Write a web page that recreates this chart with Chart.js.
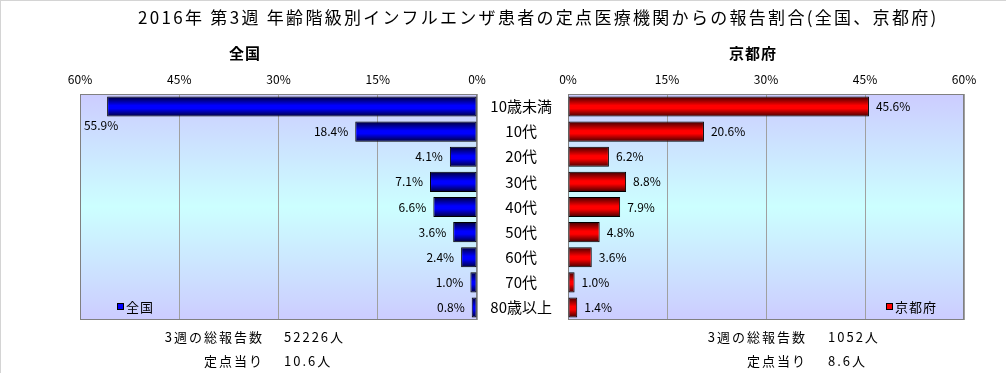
<!DOCTYPE html>
<html lang="ja">
<head>
  <meta charset="UTF-8">
  <title>年齢階級別インフルエンザ患者の報告割合</title>
  <script src="https://cdn.jsdelivr.net/npm/chart.js"></script>
  <style>
    body {
      margin: 0;
      background: #fff;
      font-family: 'Noto Sans CJK JP', sans-serif;
      color: #000;
    }

    #page {
      position: relative;
      width: 1006px;
      height: 373px;
      overflow: hidden;
      box-sizing: border-box;
      border-top: 1px solid #d4d4d4;
      border-left: 1px solid #d4d4d4;
    }

    canvas {
      position: absolute;
      left: 0;
      top: 0;
    }

    .txt {
      position: absolute;
      white-space: nowrap;
      line-height: 18px;
    }

    #title {
      left: 137px;
      top: 7px;
      font-size: 17px;
      letter-spacing: 2.3px;
    }

    .sub {
      font-size: 15px;
      font-weight: bold;
      letter-spacing: 1px;
      top: 43px;
      width: 120px;
      text-align: center;
    }

    .note {
      font-size: 13px;
      letter-spacing: 2px;
    }

    .legend {
      font-size: 13px;
      letter-spacing: 1px;
      top: 297px;
    }
    .legend i {
      display: inline-block;
      width: 5px;
      height: 5px;
      margin-right: 2px;
      vertical-align: 2px;
      border: 1px solid #000;
    }
  </style>
</head>
<body>
<div id="page">
  <canvas id="leftChart" width="1006" height="373"></canvas>
  <canvas id="rightChart" width="1006" height="373"></canvas>

  <div id="title" class="txt">2016年 第3週 年齢階級別インフルエンザ患者の定点医療機関からの報告割合(全国、京都府)</div>
  <div class="txt sub" style="left:184px">全国</div>
  <div class="txt sub" style="left:692px">京都府</div>

  <div class="txt legend" style="left:116px"><i style="background:#0000ff"></i>全国</div>
  <div class="txt legend" style="left:885px"><i style="background:#ff0000"></i>京都府</div>

  <div class="txt note" style="right:742px; top:327px">3週の総報告数</div>
  <div class="txt note" style="left:283px; top:327px">52226人</div>
  <div class="txt note" style="right:742px; top:351px">定点当り</div>
  <div class="txt note" style="left:283px; top:351px">10.6人</div>

  <div class="txt note" style="right:199px; top:327px">3週の総報告数</div>
  <div class="txt note" style="left:827px; top:327px">1052人</div>
  <div class="txt note" style="right:199px; top:351px">定点当り</div>
  <div class="txt note" style="left:827px; top:351px">8.6人</div>
</div>

<script>
  const categories = ['10歳未満', '10代', '20代', '30代', '40代', '50代', '60代', '70代', '80歳以上'];
  const zenkokuValues = [55.9, 18.4, 4.1, 7.1, 6.6, 3.6, 2.4, 1.0, 0.8];
  const kyotoValues = [45.6, 20.6, 6.2, 8.8, 7.9, 4.8, 3.6, 1.0, 1.4];
  const tickStep = 15;
  const axisMax = 60;

  const BAR_PCT = 0.8;
  const PLOT_TOP = 93;
  const PLOT_BOTTOM = 319;

  // vertical gradient per bar: dark edges, bright middle
  function barFill(dark, bright) {
    return function(ctx) {
      const chart = ctx.chart;
      const y = chart.scales.y;
      if (ctx.type !== 'data' || !y || !y.height) return bright;
      const yc = y.getPixelForValue(ctx.dataIndex);
      const half = y.height / categories.length * BAR_PCT / 2;
      const g = chart.ctx.createLinearGradient(0, yc - half, 0, yc + half);
      g.addColorStop(0, dark);
      g.addColorStop(0.45, bright);
      g.addColorStop(0.6, bright);
      g.addColorStop(1, dark);
      return g;
    };
  }

  const plotFrame = {
    id: 'plotFrame',
    beforeDraw(chart) {
      const a = chart.chartArea;
      const c = chart.ctx;
      const g = c.createLinearGradient(0, a.top, 0, a.bottom);
      g.addColorStop(0, '#ccccff');
      g.addColorStop(0.5, '#ccffff');
      g.addColorStop(1, '#ccccff');
      c.save();
      c.fillStyle = g;
      c.fillRect(a.left, a.top, a.right - a.left, a.bottom - a.top);
      c.restore();
    },
    beforeDatasetsDraw(chart) {
      const a = chart.chartArea;
      const c = chart.ctx;
      c.save();
      c.strokeStyle = '#808080';
      c.lineWidth = 1;
      c.strokeRect(a.left + 0.5, a.top + 0.5, a.right - a.left - 1, a.bottom - a.top - 1);
      c.restore();
    }
  };

  const valueLabels = {
    id: 'valueLabels',
    afterDatasetsDraw(chart, args, opts) {
      const c = chart.ctx;
      const meta = chart.getDatasetMeta(0);
      const data = chart.data.datasets[0].data;
      c.save();
      c.font = '12px "Noto Sans CJK JP", sans-serif';
      c.fillStyle = '#000';
      c.textBaseline = 'middle';
      meta.data.forEach((el, i) => {
        const text = data[i].toFixed(1) + '%';
        const w = c.measureText(text).width;
        if (opts.side === 'left') {
          if (el.x - 7 - w < chart.chartArea.left) {
            c.textAlign = 'center';
            c.fillText(text, el.x - 6, el.y + 19);
          } else {
            c.textAlign = 'right';
            c.fillText(text, el.x - 7, el.y);
          }
        } else {
          c.textAlign = 'left';
          c.fillText(text, el.x + 7, el.y);
        }
      });
      c.restore();
    }
  };

  function xScale(reverse) {
    return {
      type: 'linear',
      position: 'top',
      min: 0,
      max: axisMax,
      reverse: reverse,
      afterFit: s => { s.height = PLOT_TOP; },
      ticks: {
        stepSize: tickStep,
        padding: 7,
        color: '#000',
        font: { family: '"Noto Sans CJK JP", sans-serif', size: 12 },
        callback: v => v + '%'
      },
      grid: { color: '#a0a0a0', drawTicks: false },
      border: { display: false }
    };
  }

  function baseOptions(side) {
    return {
      indexAxis: 'y',
      responsive: false,
      animation: false,
      devicePixelRatio: 1,
      plugins: {
        legend: { display: false },
        tooltip: { enabled: false },
        valueLabels: { side: side }
      }
    };
  }

  // 全国 (left, reversed axis)
  const leftOpts = baseOptions('left');
  leftOpts.layout = { padding: { left: 79, right: 1006 - 476, top: 0, bottom: 373 - PLOT_BOTTOM } };
  leftOpts.scales = {
    x: xScale(true),
    y: { type: 'category', display: false }
  };

  new Chart(document.getElementById('leftChart'), {
    type: 'bar',
    data: {
      labels: categories,
      datasets: [{
        label: '全国',
        data: zenkokuValues,
        backgroundColor: barFill('#000038', '#0000ff'),
        borderColor: '#000',
        borderWidth: 1,
        borderSkipped: false,
        barPercentage: BAR_PCT,
        categoryPercentage: 1
      }]
    },
    options: leftOpts,
    plugins: [plotFrame, valueLabels]
  });

  // 京都府 (right), its y axis carries the age labels in the middle
  const rightOpts = baseOptions('right');
  rightOpts.layout = { padding: { left: 476, right: 1006 - 963, top: 0, bottom: 373 - PLOT_BOTTOM } };
  rightOpts.scales = {
    x: xScale(false),
    y: {
      type: 'category',
      position: 'left',
      afterFit: s => { s.width = 91; },
      ticks: {
        crossAlign: 'center',
        padding: 16,
        color: '#000',
        font: { family: '"Noto Sans CJK JP", sans-serif', size: 15 }
      },
      grid: { display: false, drawTicks: false },
      border: { display: false }
    }
  };

  new Chart(document.getElementById('rightChart'), {
    type: 'bar',
    data: {
      labels: categories,
      datasets: [{
        label: '京都府',
        data: kyotoValues,
        backgroundColor: barFill('#400000', '#ff0000'),
        borderColor: '#000',
        borderWidth: 1,
        borderSkipped: false,
        barPercentage: BAR_PCT,
        categoryPercentage: 1
      }]
    },
    options: rightOpts,
    plugins: [plotFrame, valueLabels]
  });
</script>
</body>
</html>
